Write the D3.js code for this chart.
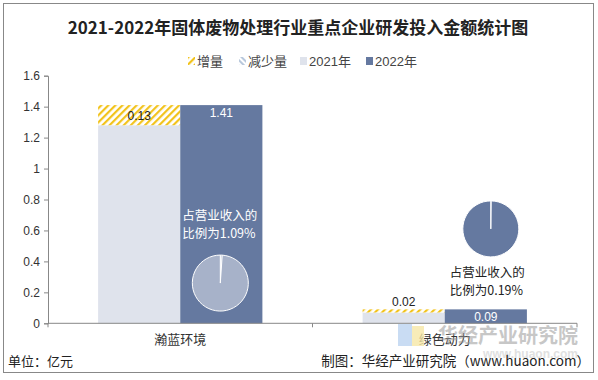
<!DOCTYPE html>
<html>
<head>
<meta charset="utf-8">
<script src="https://cdn.jsdelivr.net/npm/d3@7"></script>
<style>
  body { margin: 0; background: #fff; }
  text { font-family: "Liberation Sans", "Noto Sans CJK SC", sans-serif; }
</style>
</head>
<body>
<div id="chart"></div>
<script>
// data
var categories = ["瀚蓝环境", "绿色动力"];
var values2021 = [1.28, 0.07];
var values2022 = [1.41, 0.09];
var increase = [0.13, 0.02];
var ratio = [1.09, 0.19];        // 占营业收入的比例 (%)
var yTicks = [0, 0.2, 0.4, 0.6, 0.8, 1, 1.2, 1.4, 1.6];
var legendNames = ["增量", "减少量", "2021年", "2022年"];

var width = 598, height = 380;
var c2021 = "#dfe3ec", c2022 = "#6579a0", cHatch = "#f2c31c";

var svg = d3.select("#chart").append("svg")
  .attr("width", width)
  .attr("height", height);

var defs = svg.append("defs");
var pat = defs.append("pattern")
  .attr("id", "hatch").attr("patternUnits", "userSpaceOnUse")
  .attr("width", 5).attr("height", 5)
  .attr("patternTransform", "rotate(45)");
pat.append("rect").attr("width", 5).attr("height", 5).attr("fill", "#fff");
pat.append("rect").attr("width", 2.2).attr("height", 5).attr("fill", cHatch);

var pat2 = defs.append("pattern")
  .attr("id", "hatch2").attr("patternUnits", "userSpaceOnUse")
  .attr("width", 4).attr("height", 4)
  .attr("patternTransform", "rotate(-45)");
pat2.append("rect").attr("width", 4).attr("height", 4).attr("fill", "#fff");
pat2.append("rect").attr("width", 2).attr("height", 4).attr("fill", "#b8c8dc");

// outer frame
svg.append("rect")
  .attr("x", 3.5).attr("y", 3.5)
  .attr("width", 590).attr("height", 369)
  .attr("fill", "none").attr("stroke", "#888");

// title
svg.append("text")
  .attr("x", 298).attr("y", 34)
  .attr("text-anchor", "middle")
  .style("font-family", "'Noto Sans CJK SC', sans-serif")
  .style("font-weight", "bold")
  .style("font-size", "17px")
  .attr("fill", "#222")
  .text("2021-2022年固体废物处理行业重点企业研发投入金额统计图");

// scales
var x = d3.scaleBand().domain(categories).range([48, 577]);
var xs = d3.scaleBand().domain(["2021", "2022"])
  .range([0, x.bandwidth()]).paddingInner(0).paddingOuter(0.61);
var y = d3.scaleLinear().domain([0, 1.6]).range([323.3, 75.7]);

// y axis
var yAxis = svg.append("g")
  .attr("transform", "translate(48,0)")
  .call(d3.axisLeft(y).tickValues(yTicks).tickSize(4).tickPadding(4)
    .tickFormat(function(d) { return d3.format("")(+d.toFixed(1)); }));
yAxis.selectAll("text").style("font-size", "12px").attr("fill", "#333");
yAxis.selectAll("line").attr("stroke", "#888");
yAxis.select(".domain").attr("stroke", "#888");

var rows = categories.map(function(c, i) {
  return { cat: c, v21: values2021[i], v22: values2022[i], inc: increase[i], r: ratio[i] };
});

// bars 2021
svg.selectAll(".b21").data(rows).enter().append("rect")
  .attr("x", function(d) { return x(d.cat) + xs("2021"); })
  .attr("y", function(d) { return y(d.v21); })
  .attr("width", xs.bandwidth())
  .attr("height", function(d) { return y(0) - y(d.v21); })
  .attr("fill", c2021);

// increase hatch on top of 2021
svg.selectAll(".binc").data(rows).enter().append("rect")
  .attr("x", function(d) { return x(d.cat) + xs("2021"); })
  .attr("y", function(d) { return y(d.v21 + d.inc); })
  .attr("width", xs.bandwidth())
  .attr("height", function(d) { return y(d.v21) - y(d.v21 + d.inc); })
  .attr("fill", "url(#hatch)");

// bars 2022
svg.selectAll(".b22").data(rows).enter().append("rect")
  .attr("x", function(d) { return x(d.cat) + xs("2022"); })
  .attr("y", function(d) { return y(d.v22); })
  .attr("width", xs.bandwidth())
  .attr("height", function(d) { return y(0) - y(d.v22); })
  .attr("fill", c2022);

// x axis
svg.append("line")
  .attr("x1", 48).attr("x2", 577).attr("y1", y(0)).attr("y2", y(0))
  .attr("stroke", "#888");
svg.selectAll(".xtick").data(categories.concat(["end"])).enter().append("line")
  .attr("x1", function(d, i) { return 48 + i * x.bandwidth(); })
  .attr("x2", function(d, i) { return 48 + i * x.bandwidth(); })
  .attr("y1", y(0)).attr("y2", y(0) + 4)
  .attr("stroke", "#888");
svg.selectAll(".xlab").data(categories).enter().append("text")
  .attr("x", function(d) { return x(d) + x.bandwidth() / 2; })
  .attr("y", y(0) + 21)
  .attr("text-anchor", "middle")
  .style("font-size", "13px").attr("fill", "#333")
  .text(function(d) { return d; });

// value labels
svg.selectAll(".linc").data(rows).enter().append("text")
  .attr("x", function(d) { return x(d.cat) + xs("2021") + xs.bandwidth() / 2; })
  .attr("y", function(d, i) { return i === 0 ? y(d.v21 + d.inc / 2) + 5 : y(d.v21 + d.inc) - 3; })
  .attr("text-anchor", "middle")
  .style("font-size", "12px").attr("fill", "#222")
  .text(function(d) { return d.inc.toFixed(2); });
svg.selectAll(".l22").data(rows).enter().append("text")
  .attr("x", function(d) { return x(d.cat) + xs("2022") + xs.bandwidth() / 2; })
  .attr("y", function(d) { return y(d.v22) + 12; })
  .attr("text-anchor", "middle")
  .style("font-size", "12px").attr("fill", "#fff")
  .text(function(d) { return d.v22.toFixed(2); });

// pies with ratio
var pie = d3.pie().sort(null);
var arc = d3.arc().innerRadius(0).outerRadius(28);
var pieSpec = [
  { cx: x(categories[0]) + xs("2022") + xs.bandwidth() / 2 - 1, cy: y(0.26), fill: "#a7b2c9", txt: "#fff", tx: x(categories[0]) + xs("2022") + 2, ty: y(0.67) },
  { cx: x(categories[1]) + xs("2022") + xs.bandwidth() / 2 + 5, cy: y(0.61), fill: c2022, txt: "#222", tx: x(categories[1]) + xs("2022") + 5, ty: y(0.30) }
];
rows.forEach(function(d, i) {
  var s = pieSpec[i];
  var g = svg.append("g").attr("transform", "translate(" + s.cx + "," + s.cy + ")");
  g.selectAll("path").data(pie([d.r, 100 - d.r])).enter().append("path")
    .attr("d", arc)
    .attr("fill", s.fill)
    .attr("stroke", "#fff").attr("stroke-width", 1);
  var t = svg.append("text").attr("x", s.tx).attr("y", s.ty)
    .style("font-family", "'Noto Sans CJK SC', sans-serif")
    .style("font-size", "12.5px").attr("fill", s.txt);
  t.append("tspan").attr("x", s.tx).text("占营业收入的");
  t.append("tspan").attr("x", s.tx).attr("dy", 18).text("比例为" + d.r.toFixed(2) + "%");
});

// legend
var legX = [188, 239, 300, 366];
var legFill = ["url(#hatch)", "url(#hatch2)", c2021, c2022];
var leg = svg.selectAll(".leg").data(legendNames).enter().append("g")
  .attr("transform", function(d, i) { return "translate(" + legX[i] + ",56)"; });
leg.append("rect").attr("width", 7).attr("height", 8).attr("y", 1)
  .attr("fill", function(d, i) { return legFill[i]; });
leg.append("text").attr("x", 9).attr("y", 10)
  .style("font-size", "13px").attr("fill", "#444")
  .text(function(d) { return d; });

// watermark
svg.append("rect").attr("x", 398).attr("y", 324).attr("width", 14).attr("height", 22)
  .attr("fill", "#bcd3f0").attr("opacity", 0.8);
svg.append("rect").attr("x", 412).attr("y", 326).attr("width", 12).attr("height", 20)
  .attr("fill", "#f6e7a6").attr("opacity", 0.8);
svg.append("text").attr("x", 578).attr("y", 343).attr("text-anchor", "end")
  .style("font-family", "'Noto Sans CJK SC', sans-serif")
  .style("font-size", "20px").style("font-weight", "bold")
  .attr("fill", "#9a9a9a").attr("opacity", 0.55)
  .text("华经产业研究院");
svg.append("text").attr("x", 578).attr("y", 358).attr("text-anchor", "end")
  .style("font-size", "12px").style("font-weight", "bold")
  .attr("fill", "#bbb").attr("opacity", 0.45)
  .text("www.huaon.com");

// footer
svg.append("text").attr("x", 8).attr("y", 366)
  .style("font-family", "'Noto Sans CJK SC', sans-serif")
  .style("font-size", "13px").attr("fill", "#222")
  .text("单位：亿元");
svg.append("text").attr("x", 590).attr("y", 366).attr("text-anchor", "end")
  .style("font-family", "'Noto Sans CJK SC', sans-serif")
  .style("font-size", "13.5px").attr("fill", "#222")
  .text("制图：华经产业研究院（www.huaon.com）");
</script>
</body>
</html>
